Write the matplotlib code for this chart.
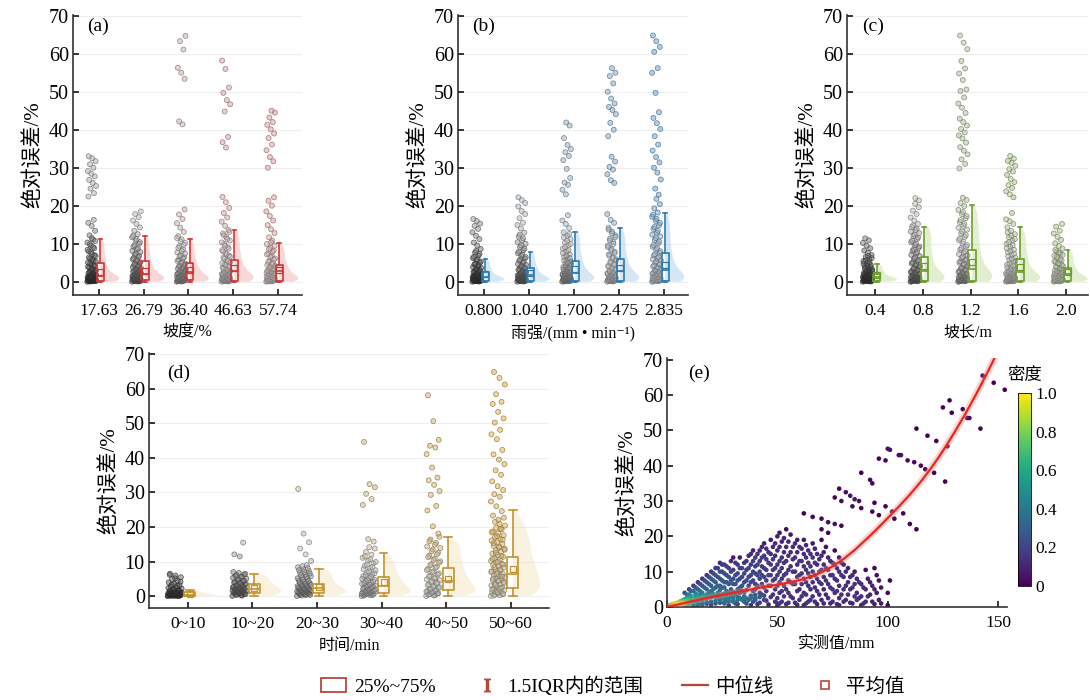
import numpy as np
import matplotlib
matplotlib.use('Agg')
import matplotlib.pyplot as plt
from matplotlib.colors import LinearSegmentedColormap, Normalize, to_rgb
from matplotlib.cm import ScalarMappable
from matplotlib.lines import Line2D
from matplotlib.patches import Patch

plt.rcParams['font.family'] = ['Liberation Serif', 'Noto Sans CJK SC', 'DejaVu Sans']
plt.rcParams['mathtext.fontset'] = 'stix'
plt.rcParams['axes.unicode_minus'] = False

# ---------------- data ----------------
# (a) slope
slope_labels = ['17.63', '26.79', '36.40', '46.63', '57.74']
slope_vals = [
    [0.1, 0.2, 0.2, 0.3, 0.4, 0.4, 0.5, 0.6, 0.7, 0.8, 0.9, 1.0, 1.1, 1.3, 1.4, 1.6, 1.8, 2.0, 2.3, 2.5, 2.8,
     3.1, 3.4, 3.8, 4.2, 4.6, 5.1, 5.6, 6.2, 6.8, 7.4, 8.1, 8.9, 9.6, 10.4, 11.2, 12.3, 13.5, 14.8, 15.6, 16.4,
     0.15, 0.25, 0.35, 0.45, 0.55, 0.65, 0.75, 0.85, 0.95, 1.05, 1.2, 1.35, 1.5, 1.7, 1.9, 2.2, 2.6, 3.0,
     3.5, 4.0, 4.4, 4.9, 5.4, 6.0, 6.5, 7.1, 7.8, 8.5, 9.2, 10.0, 10.8, 11.6,
     22.5, 23.4, 24.6, 25.3, 26.1, 26.9, 27.8, 28.5, 29.2, 30.1, 31.0, 31.8, 32.6, 33.1],
    [0.1, 0.2, 0.3, 0.3, 0.4, 0.5, 0.6, 0.7, 0.8, 0.9, 1.0, 1.2, 1.3, 1.5, 1.7, 1.9, 2.1, 2.4, 2.7, 3.0, 3.3,
     3.7, 4.1, 4.5, 5.0, 5.5, 6.0, 6.6, 7.2, 7.9, 8.6, 9.3, 10.1, 10.9, 11.8, 12.6, 13.5, 14.4, 15.3, 16.2,
     0.15, 0.25, 0.35, 0.45, 0.55, 0.65, 0.75, 0.85, 0.95, 1.1, 1.25, 1.4, 1.6, 1.8, 2.0, 2.3, 2.6, 2.9,
     3.2, 3.5, 3.9, 4.3, 4.8, 5.2, 5.8, 6.3, 6.9, 7.5, 8.2, 8.9, 9.7, 10.5, 11.3, 12.2,
     17.1, 17.9, 18.6],
    [0.1, 0.2, 0.3, 0.4, 0.5, 0.6, 0.7, 0.8, 1.0, 1.1, 1.3, 1.5, 1.7, 2.0, 2.2, 2.5, 2.8, 3.1, 3.5, 3.9, 4.3,
     4.8, 5.3, 5.9, 6.5, 7.1, 7.8, 8.6, 9.4, 10.3, 11.2, 12.1, 13.2, 14.3, 15.5, 16.6, 17.8, 19.1,
     0.15, 0.25, 0.35, 0.45, 0.55, 0.65, 0.75, 0.9, 1.05, 1.2, 1.4, 1.6, 1.85, 2.1, 2.35, 2.65, 2.95, 3.3,
     3.7, 4.1, 4.5, 5.0, 5.6, 6.2, 6.8, 7.5, 8.2, 9.0, 9.8, 10.7, 11.6,
     41.5, 42.3, 53.5, 55.1, 56.4, 61.2, 63.4, 64.8],
    [0.1, 0.2, 0.3, 0.4, 0.5, 0.6, 0.7, 0.9, 1.0, 1.2, 1.4, 1.6, 1.9, 2.1, 2.4, 2.7, 3.0, 3.4, 3.8, 4.2, 4.7,
     5.2, 5.8, 6.4, 7.0, 7.7, 8.4, 9.2, 10.0, 10.9, 11.8, 12.8, 13.7, 14.8, 15.9, 17.0, 18.2, 19.5, 21.0, 22.4,
     0.15, 0.25, 0.35, 0.45, 0.55, 0.65, 0.8, 0.95, 1.1, 1.3, 1.5, 1.75, 2.0, 2.25, 2.55, 2.85, 3.2, 3.6,
     4.0, 4.45, 4.95, 5.5, 6.1, 6.7, 7.35, 8.05, 8.8, 9.6, 10.45, 11.35, 12.3, 13.2,
     35.4, 36.8, 38.2, 44.9, 46.8, 47.9, 49.8, 51.2, 56.1, 58.3],
    [0.1, 0.2, 0.3, 0.4, 0.5, 0.7, 0.8, 1.0, 1.2, 1.4, 1.6, 1.9, 2.2, 2.5, 2.8, 3.2, 3.6, 4.0, 4.5, 5.0, 5.6,
     6.2, 6.9, 7.6, 8.3, 9.1, 10.0, 10.9, 11.8, 12.9, 13.9, 15.0, 16.2, 17.4, 18.6, 20.1, 21.4, 22.3,
     0.15, 0.25, 0.35, 0.45, 0.6, 0.75, 0.9, 1.1, 1.3, 1.5, 1.75, 2.05, 2.35, 2.65, 3.0, 3.4, 3.8, 4.25,
     4.75, 5.3, 5.9, 6.55, 7.25, 7.95, 8.7, 9.55, 10.45,
     30.1, 31.8, 32.9, 34.7, 36.2, 37.9, 39.1, 40.2, 41.4, 42.1, 43.3, 44.6, 45.1],
]
# (q1, median, q3, upper whisker, mean)
slope_box = [(0.4, 1.6, 4.9, 11.4, 2.6), (0.6, 2.2, 5.5, 12.0, 3.0), (0.6, 2.6, 4.9, 11.3, 3.2),
             (0.4, 2.9, 5.8, 13.8, 3.6), (0.4, 2.9, 4.6, 10.3, 3.1)]

# (b) rainfall intensity
rain_labels = ['0.800', '1.040', '1.700', '2.475', '2.835']
rain_vals = [
    [0.1, 0.2, 0.2, 0.3, 0.4, 0.5, 0.6, 0.7, 0.8, 0.9, 1.0, 1.1, 1.3, 1.4, 1.6, 1.8, 2.0, 2.3, 2.6, 2.9, 3.3,
     3.7, 4.1, 4.6, 5.1, 5.7, 6.3, 7.0, 7.8, 8.7, 9.6, 10.4, 11.3, 12.2, 13.1, 14.0, 14.8, 15.4, 16.1, 16.6,
     0.15, 0.25, 0.35, 0.45, 0.55, 0.65, 0.75, 0.85, 0.95, 1.05, 1.2, 1.35, 1.5, 1.7, 1.9, 2.15, 2.45,
     2.75, 3.1, 3.5, 3.9, 4.35, 4.85, 5.4, 6.0, 6.65, 7.4, 8.2],
    [0.1, 0.2, 0.3, 0.3, 0.4, 0.5, 0.6, 0.7, 0.8, 1.0, 1.1, 1.3, 1.5, 1.7, 1.9, 2.2, 2.5, 2.8, 3.2, 3.6, 4.0,
     4.5, 5.0, 5.6, 6.2, 6.9, 7.6, 8.4, 9.2, 10.1, 11.0, 12.0, 13.0, 14.1, 15.0, 15.6, 16.8, 17.9, 18.7, 19.9,
     0.15, 0.25, 0.35, 0.45, 0.55, 0.65, 0.75, 0.9, 1.05, 1.2, 1.4, 1.6, 1.8, 2.05, 2.35, 2.65, 3.0, 3.4,
     3.8, 4.25, 4.75, 5.3, 5.9, 6.55, 7.25, 8.0, 8.8, 9.65, 10.5, 11.5, 12.5,
     20.8, 21.6, 22.3],
    [0.1, 0.2, 0.3, 0.4, 0.5, 0.6, 0.7, 0.9, 1.0, 1.2, 1.4, 1.6, 1.9, 2.1, 2.4, 2.7, 3.1, 3.5, 3.9, 4.4, 4.9,
     5.4, 6.0, 6.6, 7.3, 8.0, 8.8, 9.6, 10.4, 11.3, 12.2, 13.1, 14.2, 15.3, 16.2, 17.6,
     0.15, 0.25, 0.35, 0.45, 0.55, 0.65, 0.8, 0.95, 1.1, 1.3, 1.5, 1.75, 2.0, 2.25, 2.55, 2.9, 3.3, 3.7,
     4.15, 4.65, 5.15, 5.7, 6.3, 6.95, 7.65, 8.4, 9.2, 10.0, 10.85, 11.75, 12.65,
     23.1, 24.3, 25.6, 26.2, 27.4, 29.8, 32.1, 33.2, 34.2, 35.0, 36.1, 37.9, 41.2, 42.0],
    [0.1, 0.2, 0.3, 0.4, 0.5, 0.6, 0.8, 0.9, 1.1, 1.3, 1.5, 1.8, 2.0, 2.3, 2.7, 3.0, 3.4, 3.8, 4.3, 4.8, 5.4,
     6.0, 6.6, 7.3, 8.0, 8.8, 9.6, 10.5, 11.4, 12.3, 13.3, 14.3, 15.6, 16.4, 17.9,
     0.15, 0.25, 0.35, 0.45, 0.55, 0.7, 0.85, 1.0, 1.2, 1.4, 1.65, 1.9, 2.15, 2.5, 2.85, 3.2, 3.6, 4.05,
     4.55, 5.1, 5.7, 6.3, 6.95, 7.65, 8.4, 9.2, 10.05, 10.95, 11.85, 12.8, 13.8,
     26.1, 26.8, 28.4, 29.6, 30.3, 31.7, 33.0, 38.4, 40.1, 41.9, 44.2, 45.3, 46.1, 47.0, 48.3, 50.1, 52.3,
     54.2, 55.1, 56.3],
    [0.1, 0.2, 0.3, 0.4, 0.5, 0.6, 0.7, 0.9, 1.0, 1.2, 1.4, 1.7, 1.9, 2.2, 2.5, 2.9, 3.2, 3.6, 4.1, 4.6, 5.1,
     5.7, 6.3, 7.0, 7.7, 8.5, 9.3, 10.2, 11.1, 12.0, 13.0, 14.0, 15.0, 16.1, 17.2, 18.3, 19.4, 20.5, 21.9,
     0.15, 0.25, 0.35, 0.45, 0.55, 0.65, 0.8, 0.95, 1.1, 1.3, 1.55, 1.8, 2.05, 2.35, 2.7, 3.05, 3.4, 3.85,
     4.35, 4.85, 5.4, 6.0, 6.65, 7.35, 8.1, 8.9, 9.75, 10.65, 11.55, 12.5, 13.5, 14.5, 15.55, 16.65, 17.75,
     23.0, 24.6, 27.0, 28.8, 30.1, 31.5, 32.9, 34.6, 36.2, 38.4, 40.3, 41.8, 43.2, 44.7, 49.8, 55.1, 56.3,
     60.6, 61.9, 63.4, 64.9],
]
rain_box = [(0.3, 1.3, 2.6, 6.0, 2.0), (0.4, 1.8, 3.7, 8.0, 2.5), (0.3, 2.3, 5.5, 13.2, 3.4),
            (0.3, 2.9, 6.0, 14.2, 3.8), (0.3, 3.3, 7.7, 18.2, 4.5)]

# (c) slope length
length_labels = ['0.4', '0.8', '1.2', '1.6', '2.0']
length_vals = [
    [0.1, 0.2, 0.2, 0.3, 0.4, 0.5, 0.6, 0.7, 0.8, 0.9, 1.0, 1.1, 1.2, 1.4, 1.5, 1.7, 1.9, 2.1, 2.4, 2.7, 3.0,
     3.3, 3.7, 4.1, 4.5, 5.0, 5.5, 6.0, 6.6, 7.1, 7.7, 8.3, 8.9, 9.6, 10.3, 11.0, 11.5,
     0.15, 0.25, 0.35, 0.45, 0.55, 0.65, 0.75, 0.85, 0.95, 1.05, 1.15, 1.3, 1.45, 1.6, 1.8, 2.0, 2.25,
     2.55, 2.85, 3.15, 3.5, 3.9, 4.3, 4.8, 5.25, 5.75, 6.3, 6.85],
    [0.1, 0.2, 0.3, 0.4, 0.5, 0.7, 0.8, 1.0, 1.2, 1.4, 1.7, 2.0, 2.3, 2.6, 3.0, 3.4, 3.9, 4.4, 4.9, 5.5, 6.1,
     6.8, 7.5, 8.2, 9.0, 9.7, 10.5, 11.3, 12.1, 12.9, 13.7, 14.5, 15.3, 16.2, 17.0, 17.9, 18.8, 19.7, 20.6,
     0.15, 0.25, 0.35, 0.45, 0.6, 0.75, 0.9, 1.1, 1.3, 1.55, 1.85, 2.15, 2.45, 2.8, 3.2, 3.65, 4.15, 4.65,
     5.2, 5.8, 6.45, 7.15, 7.85, 8.6, 9.35, 10.1, 10.9, 11.7, 12.5, 13.3, 14.1, 14.9,
     21.5, 22.1],
    [0.1, 0.2, 0.3, 0.4, 0.5, 0.6, 0.8, 1.0, 1.2, 1.4, 1.7, 2.0, 2.3, 2.7, 3.1, 3.5, 4.0, 4.5, 5.1, 5.7, 6.3,
     7.0, 7.7, 8.5, 9.3, 10.1, 11.0, 11.9, 12.8, 13.8, 14.8, 15.8, 16.8, 17.9, 19.0, 20.0, 20.8, 21.6, 22.2,
     0.15, 0.25, 0.35, 0.45, 0.55, 0.7, 0.9, 1.1, 1.3, 1.55, 1.85, 2.15, 2.5, 2.9, 3.3, 3.75, 4.25, 4.8,
     5.4, 6.0, 6.65, 7.35, 8.1, 8.9, 9.7, 10.55, 11.45, 12.35, 13.3, 14.3, 15.3, 16.3, 17.35, 18.45,
     29.9, 31.1, 32.3, 33.6, 34.6, 35.5, 36.7, 37.8, 38.6, 39.4, 40.3, 41.2, 42.1, 43.0, 44.5, 45.9, 47.0,
     48.6, 50.3, 50.7, 53.2, 54.9, 56.2, 58.2, 61.3, 63.0, 64.9],
    [0.1, 0.2, 0.3, 0.4, 0.5, 0.6, 0.8, 1.0, 1.1, 1.3, 1.6, 1.8, 2.1, 2.4, 2.8, 3.2, 3.6, 4.1, 4.6, 5.2, 5.8,
     6.4, 7.1, 7.8, 8.5, 9.3, 10.1, 10.9, 11.8, 12.6, 13.5, 14.4, 15.3, 16.0, 16.5, 18.2,
     0.15, 0.25, 0.35, 0.45, 0.55, 0.7, 0.9, 1.05, 1.2, 1.45, 1.7, 1.95, 2.25, 2.6, 3.0, 3.4, 3.85, 4.35,
     4.9, 5.5, 6.1, 6.75, 7.45, 8.15, 8.9, 9.7, 10.5, 11.35, 12.2, 13.05,
     22.3, 23.1, 23.9, 24.8, 25.5, 26.3, 27.1, 28.2, 29.1, 29.7, 30.6, 31.4, 31.9, 32.5, 33.2],
    [0.1, 0.2, 0.3, 0.3, 0.4, 0.5, 0.6, 0.7, 0.8, 1.0, 1.1, 1.3, 1.5, 1.7, 1.9, 2.1, 2.4, 2.7, 3.0, 3.4, 3.8,
     4.2, 4.7, 5.2, 5.7, 6.3, 6.9, 7.5, 8.1, 8.8, 9.5, 10.2, 11.1, 11.9, 12.8, 13.5, 14.6, 15.3,
     0.15, 0.25, 0.35, 0.45, 0.55, 0.65, 0.75, 0.9, 1.05, 1.2, 1.4, 1.6, 1.8, 2.0, 2.25, 2.55, 2.85, 3.2,
     3.6, 4.0, 4.45, 4.95, 5.45, 6.0, 6.6, 7.2, 7.8, 8.45],
]
length_box = [(0.3, 1.3, 2.0, 4.7, 1.8), (0.3, 2.9, 6.7, 14.6, 4.2), (0.3, 3.5, 8.5, 20.2, 5.3),
              (0.3, 2.7, 6.0, 14.4, 3.9), (0.3, 2.0, 3.7, 8.5, 2.6)]

# (d) time
time_labels = ['0~10', '10~20', '20~30', '30~40', '40~50', '50~60']
time_vals = [
    [0.0, 0.1, 0.1, 0.2, 0.2, 0.3, 0.3, 0.4, 0.4, 0.5, 0.5, 0.6, 0.7, 0.8, 0.9, 1.0, 1.1, 1.3, 1.5, 1.7, 1.9,
     2.2, 2.5, 2.8, 3.2, 3.6, 4.0, 4.5, 5.0, 5.5, 6.0, 6.5,
     0.05, 0.15, 0.25, 0.35, 0.45, 0.55, 0.65, 0.75, 0.85, 0.95, 1.05, 1.2, 1.4, 1.6, 2.0, 2.4, 3.0, 3.4,
     4.2, 5.2, 6.2],
    [0.1, 0.3, 0.5, 0.7, 0.8, 1.0, 1.2, 1.4, 1.6, 1.8, 2.0, 2.2, 2.4, 2.6, 2.9, 3.1, 3.4, 3.7, 4.0, 4.3, 4.7,
     5.1, 5.5, 5.9, 6.3, 6.7, 7.0, 0.2, 0.4, 0.6, 0.9, 1.1, 1.3, 1.5, 1.7, 1.9, 2.1, 2.3, 2.5, 2.75, 3.0,
     3.25, 3.55, 3.85, 4.15, 4.5, 4.9, 5.3, 5.7, 6.1, 6.5, 11.5, 12.1, 15.5],
    [0.1, 0.3, 0.5, 0.7, 0.9, 1.1, 1.3, 1.5, 1.7, 1.9, 2.1, 2.3, 2.6, 2.9, 3.2, 3.5, 3.8, 4.2, 4.6, 5.0, 5.4,
     5.8, 6.3, 6.8, 7.3, 7.8, 8.4, 9.0, 0.2, 0.4, 0.6, 0.8, 1.0, 1.2, 1.4, 1.6, 1.8, 2.0, 2.2, 2.45, 2.75,
     3.05, 3.35, 3.65, 4.0, 4.4, 4.8, 5.2, 5.6, 6.05, 6.55, 7.05, 7.55, 8.1, 8.7,
     10.2, 12.1, 13.8, 15.6, 18.1, 31.0],
    [0.1, 0.3, 0.5, 0.7, 0.9, 1.2, 1.4, 1.7, 2.0, 2.3, 2.6, 2.9, 3.2, 3.6, 4.0, 4.4, 4.8, 5.3, 5.8, 6.3, 6.9,
     7.5, 8.1, 8.8, 9.5, 10.3, 11.1, 12.0, 12.8, 13.8, 14.2, 0.2, 0.4, 0.6, 0.8, 1.05, 1.3, 1.55, 1.85, 2.15,
     2.45, 2.75, 3.05, 3.4, 3.8, 4.2, 4.6, 5.05, 5.55, 6.05, 6.6, 7.2, 7.8, 8.45, 9.15, 9.9, 10.7, 11.55,
     15.8, 16.5, 26.4, 28.1, 29.6, 31.5, 32.4, 44.6],
    [0.1, 0.3, 0.6, 0.9, 1.2, 1.5, 1.8, 2.2, 2.6, 3.0, 3.4, 3.9, 4.4, 4.9, 5.4, 6.0, 6.6, 7.2, 7.9, 8.6, 9.3,
     10.1, 10.9, 11.7, 12.6, 13.5, 14.4, 15.4, 16.4, 17.2, 0.2, 0.45, 0.75, 1.05, 1.35, 1.65, 2.0, 2.4,
     2.8, 3.2, 3.65, 4.15, 4.65, 5.15, 5.7, 6.3, 6.9, 7.55, 8.25, 8.95, 9.7, 10.5, 11.3, 12.15, 13.05,
     13.95, 14.9, 15.9, 18.1, 20.2, 24.8, 26.1, 29.3, 30.4, 32.2, 33.5, 34.3, 37.2, 41.1, 43.0, 43.5,
     45.2, 50.6, 58.1],
    [0.1, 0.3, 0.5, 0.6, 0.9, 1.0, 1.3, 1.5, 1.7, 2.1, 2.3, 2.6, 2.9, 3.1, 3.4, 3.6, 4.1, 4.4, 4.7, 5.0, 5.3,
     5.6, 5.9, 6.2, 6.5, 6.9, 7.2, 7.6, 7.9, 8.3, 8.6, 9.0, 9.4, 9.8, 10.2, 10.6, 11.0, 11.4, 11.9, 12.3,
     12.8, 13.2, 13.7, 14.1, 14.6, 15.1, 15.6, 16.1, 16.6, 17.1, 17.6, 18.2, 18.7, 19.3, 19.8, 20.4, 20.9,
     0.2, 0.7, 1.15, 1.9, 2.45, 3.25, 3.85, 4.55, 5.15, 5.75, 6.35, 7.05, 7.75, 8.45, 9.2, 10.0, 10.8,
     11.65, 12.55, 13.45, 14.35, 15.35, 16.35, 17.35, 18.45, 19.55, 21.5, 22.7,
     22.1, 23.3, 24.6, 26.0, 27.4, 28.8, 29.5, 30.7, 31.8, 33.2, 35.1, 36.4, 38.2, 39.5, 41.0, 42.3, 45.4,
     46.8, 48.1, 50.2, 51.4, 53.3, 55.6, 56.2, 58.4, 61.2, 63.1, 64.8],
]
time_box = [(0.1, 0.5, 1.1, 1.7, 0.7), (0.8, 2.1, 3.4, 6.3, 2.3), (1.0, 2.3, 3.6, 7.8, 2.7),
            (1.0, 3.1, 5.7, 12.6, 4.0), (1.7, 4.5, 8.2, 17.0, 5.0), (2.4, 6.3, 11.3, 25.0, 7.8)]

# (e) measured value vs absolute error
e_points = [
    (0.5, 0.1), (1, 0.1), (1, 0.4), (1.5, 0.2), (1.5, 0.5), (2, 0.1), (2, 0.4), (2.5, 0.3), (2.5, 0.7),
    (3, 0.2), (3, 0.6), (3.5, 0.4), (3.5, 0.8), (4, 0.3), (4, 0.7), (4.5, 0.5), (5, 0.3), (5, 0.9),
    (5.5, 0.6), (6, 0.4), (6, 1.1), (6.5, 0.7), (7, 0.5), (7, 1.3), (8, 0.6), (8, 1.5), (9, 0.8), (9, 1.8),
    (10, 0.9), (10, 2.0), (1, 0.2), (2, 0.3), (2, 0.6), (3, 0.4), (3, 0.9), (4, 0.5), (4, 1.1), (5, 0.6),
    (5, 1.3), (6, 0.8), (6, 1.6), (7, 0.9), (7, 1.9), (8, 1.0), (8, 2.2), (9, 1.2), (9, 2.5), (10, 1.3),
    (10, 2.8), (11, 1.5), (11, 3.0), (12, 1.6), (12, 0.8), (13, 1.8), (13, 3.3), (14, 1.9), (14, 1.0),
    (15, 2.1), (15, 3.5), (16, 2.2), (16, 1.2), (17, 2.4), (18, 2.5), (18, 1.4), (19, 2.7), (20, 2.8),
    (20, 1.5), (21, 3.0), (22, 3.1), (22, 1.8), (23, 3.3), (24, 3.4), (24, 2.0), (25, 3.6), (26, 3.8),
    (26, 2.2), (28, 4.0), (28, 2.4), (30, 4.2), (30, 2.6), (32, 4.4), (32, 2.8), (34, 4.6), (35, 3.0),
    (36, 4.8), (38, 3.2), (40, 5.0), (40, 3.4),
    (12, 0.4), (14, 0.6), (16, 0.7), (18, 0.9), (20, 0.6), (22, 1.0), (24, 1.2), (26, 1.4), (28, 1.6),
    (30, 1.8), (32, 2.0), (34, 2.2), (36, 2.4), (38, 2.6), (40, 2.0), (42, 2.8), (44, 3.2), (13, 2.6),
    (15, 2.8), (17, 3.0), (19, 3.4), (21, 3.6), (23, 2.6), (25, 2.9), (27, 3.1), (29, 3.3), (31, 3.6),
    (33, 3.9), (35, 4.1),
    (8, 4), (10, 5), (10, 3.5), (12, 6), (12, 4.5), (14, 7), (14, 5), (14, 3), (16, 8), (16, 6), (16, 4),
    (18, 9), (18, 7), (18, 5), (18, 3.5), (20, 10), (20, 8), (20, 6), (20, 4.5), (22, 11), (22, 9), (22, 7),
    (22, 5.5), (24, 12.5), (24, 10), (24, 8), (24, 6), (24, 4.8), (26, 12), (26, 9.5), (26, 7), (26, 5.5),
    (26, 1), (28, 11), (28, 8.5), (28, 6.5), (28, 0.5), (30, 14), (30, 10.5), (30, 8), (30, 6.5), (30, 1.5),
    (32, 12), (32, 9.5), (32, 7.5), (32, 5), (32, 0.8), (34, 11), (34, 8.5), (34, 6), (34, 2), (36, 13),
    (36, 10.5), (36, 7.5), (36, 1), (38, 15), (38, 12), (38, 9), (38, 7), (38, 3), (38, 0.5), (40, 14),
    (40, 11.5), (40, 9.5), (40, 6.5), (40, 2.5), (42, 16), (42, 13), (42, 10), (42, 8), (42, 4), (42, 1.2),
    (44, 18), (44, 14.5), (44, 11), (44, 8.5), (44, 5.5), (44, 2), (46, 15.5), (46, 12.5), (46, 9), (46, 6),
    (46, 0.7), (48, 17), (48, 13.5), (48, 10.5), (48, 7.5), (48, 3.5), (50, 20), (50, 16), (50, 12), (50, 9),
    (50, 6), (50, 2.5), (50, 0.4), (52, 18.5), (52, 14), (52, 11), (52, 8), (52, 4.5), (52, 1.5), (54, 22),
    (54, 17), (54, 13), (54, 9.5), (54, 5), (54, 0.8), (56, 20.5), (56, 15.5), (56, 11.5), (56, 7), (56, 3),
    (58, 18), (58, 14), (58, 10), (58, 6.5), (58, 1.2), (60, 17), (60, 13), (60, 9), (60, 5), (60, 2),
    (62, 19), (62, 15), (62, 11.5), (62, 8), (62, 4), (62, 0.5), (64, 16), (64, 12.5), (64, 9.5), (64, 6),
    (64, 1.5), (66, 18), (66, 14), (66, 10), (66, 7), (66, 3), (68, 15), (68, 12), (68, 8), (68, 4.5),
    (68, 0.8), (70, 19), (70, 14.5), (70, 10.5), (70, 6.5), (70, 2), (72, 17), (72, 11), (72, 7.5),
    (72, 3.5), (74, 13), (74, 9), (74, 5.5), (74, 1), (76, 16), (76, 12), (76, 8), (76, 4), (78, 14),
    (78, 10), (78, 6), (78, 2.5), (78, 0.5), (80, 12), (80, 8.5), (80, 5), (80, 1.5), (82, 11), (82, 7),
    (82, 3.5), (84, 9), (84, 5.5), (84, 1), (86, 8), (86, 4), (86, 2), (88, 6.5), (88, 3), (88, 0.5),
    (90, 10.5), (90, 5), (90, 1.5), (92, 7), (92, 3.5), (94, 11), (94, 5), (94, 0.8), (96, 7.5), (96, 2),
    (100, 4), (100, 0.5), (101, 7.5),
    (9, 3.5), (11, 4.5), (11, 2.5), (13, 5.5), (13, 3.8), (15, 6.5), (15, 4.5), (17, 7.5), (17, 5.5),
    (19, 8.5), (19, 6.5), (19, 4), (21, 9.5), (21, 7.5), (21, 5), (23, 11), (23, 8.5), (23, 6), (23, 4),
    (25, 12), (25, 10), (25, 7.5), (25, 5.5), (27, 11.5), (27, 9), (27, 7), (27, 4.5), (27, 1.8), (29, 13),
    (29, 10), (29, 7.5), (29, 5), (31, 12.5), (31, 9), (31, 6.5), (31, 1), (33, 14), (33, 11), (33, 8),
    (33, 5.5), (33, 2.5), (35, 12.5), (35, 9.5), (35, 7), (35, 1.5), (37, 14.5), (37, 11), (37, 8.5),
    (37, 6), (37, 2), (39, 16), (39, 13), (39, 10), (39, 7.5), (39, 4.5), (39, 1.5), (41, 15), (41, 12),
    (41, 9), (41, 6), (41, 0.8), (43, 17), (43, 14), (43, 11.5), (43, 9), (43, 6.5), (43, 3.5), (45, 16.5),
    (45, 13.5), (45, 10.5), (45, 7.5), (45, 4.5), (45, 1.8), (47, 19), (47, 15), (47, 12), (47, 9), (47, 6),
    (47, 2.8), (49, 18), (49, 14.5), (49, 11), (49, 8), (49, 5), (49, 1.5), (51, 21), (51, 17), (51, 13),
    (51, 10), (51, 7), (51, 4), (51, 1), (53, 19.5), (53, 15.5), (53, 12.5), (53, 9), (53, 6), (53, 3),
    (55, 18.5), (55, 14.5), (55, 10.5), (55, 7.5), (55, 4), (55, 1.2), (57, 17), (57, 13.5), (57, 10),
    (57, 6.5), (57, 2.5), (59, 19), (59, 15.5), (59, 12), (59, 8.5), (59, 4.5), (59, 0.6), (61, 16.5),
    (61, 13), (61, 9.5), (61, 6.5), (61, 3), (63, 17.5), (63, 14), (63, 10.5), (63, 7), (63, 3.5), (63, 1),
    (65, 15), (65, 11.5), (65, 8.5), (65, 5), (65, 2), (67, 16.5), (67, 12.5), (67, 9), (67, 5.5), (67, 1.5),
    (69, 13.5), (69, 10), (69, 7), (69, 3.5), (71, 15.5), (71, 12), (71, 8.5), (71, 5), (71, 1), (73, 14),
    (73, 10.5), (73, 6.5), (73, 2.5), (75, 12.5), (75, 9), (75, 5), (75, 1.5), (77, 11), (77, 7.5),
    (77, 4.5), (77, 0.8), (79, 12.5), (79, 9), (79, 3.5), (81, 10), (81, 6), (81, 2), (83, 8.5), (83, 5),
    (83, 1.2), (85, 10), (85, 6.5), (85, 3), (87, 7), (87, 2.5), (89, 5.5), (89, 1), (91, 8), (91, 3),
    (93, 6), (93, 1.5), (95, 9), (95, 4), (97, 5.5), (97, 1),
    (62, 26.5), (66, 25.5), (70, 25), (73, 24), (76, 23.5), (79, 23), (70, 22), (73, 21), (76, 31),
    (78, 33.5), (79, 30), (81, 32.5), (83, 31.5), (84, 28.5), (85, 30.5), (87, 30), (88, 28), (88, 38),
    (92, 36), (93, 35), (93, 27), (94, 29.5), (96, 26), (96, 42), (99, 41.5), (99, 28.5), (100, 44.8),
    (101, 44.5), (102, 27), (103, 25), (105, 43), (106, 43), (107, 26.5), (109, 41.5), (110, 23.5),
    (112, 41), (113, 22), (113, 50.5), (115, 40), (117, 39), (118, 48.5), (121, 38), (122, 47),
    (125, 56.5), (126, 35.5), (127, 45.5), (128, 58.5), (129, 55), (134, 56), (136, 53.5), (137, 53.5),
    (142, 50.5), (143, 65.5), (148, 63.5), (153, 61.5),
]
# fitted trend line
fit_x = [0, 5, 10, 15, 20, 25, 30, 35, 40, 45, 50, 55, 60, 65, 70, 75, 80, 85, 90, 95, 100, 105, 110,
         115, 120, 125, 130, 135, 140, 145, 150]
fit_y = [0, 0.7, 1.4, 2.1, 2.8, 3.4, 4.0, 4.6, 5.2, 5.8, 6.3, 6.9, 7.6, 8.5, 9.8, 11.5, 13.6, 16.1, 19.0,
         22.0, 25.2, 28.4, 31.8, 35.5, 39.6, 44.2, 49.2, 54.5, 60.2, 66.2, 72.5]

ylab = '绝对误差/%'


def darker(c, f=0.7):
    r, g, b = to_rgb(c)
    return (r * f, g * f, b * f)


def strip_panel(ax, labels, vals, box, main, light, pt, xlim, tag, xlabel,
                spread=0.2, shift=-0.16, bw=0.16, capw=0.08, valpha=0.5):
    n = len(labels)
    pos = np.arange(1, n + 1)
    cmap = LinearSegmentedColormap.from_list('pts', ['#303030', '#b0b0b0', pt])
    for y in range(0, 71, 10):
        ax.axhline(y, color='#eeeeee', lw=0.8, zorder=0)

    # half violins of the values inside the whisker range
    inner = [[x for x in v if x <= b[3]] for v, b in zip(vals, box)]
    vp = ax.violinplot(inner, positions=pos + 0.03, widths=0.85, side='high',
                       showextrema=False, bw_method=0.3)
    for body in vp['bodies']:
        body.set_facecolor(light)
        body.set_edgecolor('none')
        body.set_alpha(valpha)
        body.set_zorder(1)

    for i, v in enumerate(vals):
        v = np.asarray(v)
        k = np.arange(len(v))
        xs = pos[i] + shift + ((k * 0.6180339887) % 1.0 - 0.5) * spread
        t = 0.55 * i / (n - 1) + 0.45 * np.clip(v / 20.0, 0, 1)
        fc = cmap(t)
        fc[:, 3] = 0.45
        ec = [darker(c[:3]) + (0.85,) for c in cmap(t)]
        ax.scatter(xs, v, s=13, c=fc, edgecolors=ec, linewidths=0.5, zorder=2)

    stats = [dict(q1=b[0], med=b[1], q3=b[2], whislo=0.0, whishi=b[3], mean=b[4], fliers=[])
             for b in box]
    ax.bxp(stats, positions=pos + 0.03, widths=bw, showmeans=True, showfliers=False,
           manage_ticks=False, capwidths=capw,
           boxprops=dict(color=main, lw=1.2), whiskerprops=dict(color=main, lw=1.2),
           capprops=dict(color=main, lw=1.2), medianprops=dict(color=main, lw=1.2),
           meanprops=dict(marker='s', markerfacecolor='none', markeredgecolor=main,
                          markersize=4, markeredgewidth=0.9), zorder=3)

    ax.set_xticks(pos)
    ax.set_xticklabels(labels, fontsize=12.5)
    ax.set_xlim(*xlim)
    ax.set_ylim(-3.4, 70.3)
    ax.set_yticks(range(0, 71, 10))
    ax.tick_params(axis='y', labelsize=14.5, direction='in', length=4, width=1.1, pad=3)
    ax.tick_params(axis='x', direction='in', length=4, width=1.1, pad=6)
    for s in ['top', 'right']:
        ax.spines[s].set_visible(False)
    for s in ['left', 'bottom']:
        ax.spines[s].set_linewidth(1.2)
        ax.spines[s].set_color('#333333')
    ax.set_ylabel(ylab, fontsize=15, labelpad=4)
    ax.set_xlabel(xlabel, fontsize=11.5, labelpad=4)
    ax.text(tag[1], tag[2], tag[0], transform=ax.transAxes, fontsize=14, ha='center', va='center')


fig = plt.figure(figsize=(10.9, 7), dpi=100)

ax_a = fig.add_axes([0.0670, 0.5786, 0.2101, 0.40])
ax_b = fig.add_axes([0.4202, 0.5786, 0.2110, 0.40])
ax_c = fig.add_axes([0.7771, 0.5786, 0.2211, 0.40])
ax_d = fig.add_axes([0.1367, 0.1314, 0.3670, 0.3643])
ax_e = fig.add_axes([0.6119, 0.1329, 0.3119, 0.3557])
cax = fig.add_axes([0.9339, 0.1629, 0.0119, 0.2757])

strip_panel(ax_a, slope_labels, slope_vals, slope_box, '#cf3535', '#f3b0b0', '#d98f8f',
            (0.42, 5.54), ('(a)', 0.11, 0.96), '坡度/%')
strip_panel(ax_b, rain_labels, rain_vals, rain_box, '#2a7bb3', '#aed0e8', '#5e93c4',
            (0.42, 5.54), ('(b)', 0.11, 0.96), '雨强/(mm • min⁻¹)')
strip_panel(ax_c, length_labels, length_vals, length_box, '#6c9c2e', '#c6e0a0', '#97bf60',
            (0.41, 5.46), ('(c)', 0.11, 0.96), '坡长/m')
strip_panel(ax_d, time_labels, time_vals, time_box, '#c4922c', '#ecd59c', '#d5a640',
            (0.40, 6.59), ('(d)', 0.075, 0.92), '时间/min',
            spread=0.22, shift=-0.2, bw=0.17, capw=0.12, valpha=0.3)

# (e) density scatter
e_meas, e_err = np.array(e_points, dtype=float).T
sx, sy = e_meas / 154.0, e_err / 70.0
d2 = (sx[:, None] - sx[None, :]) ** 2 + (sy[:, None] - sy[None, :]) ** 2
dens = np.exp(-d2 / (2 * 0.016 ** 2)).sum(axis=1)
dens = (dens - dens.min()) / (dens.max() - dens.min())
order = np.argsort(dens)
ax_e.scatter(e_meas[order], e_err[order], c=dens[order], cmap='viridis', vmin=0, vmax=1,
             s=11, edgecolors='none', zorder=2)
ax_e.plot(fit_x, fit_y, color='#f08080', lw=5, alpha=0.35, zorder=3, solid_capstyle='butt')
ax_e.plot(fit_x, fit_y, color='#e8281e', lw=1.6, zorder=4)
ax_e.set_xlim(0, 154)
ax_e.set_ylim(0, 70.5)
ax_e.set_xticks([0, 50, 100, 150])
ax_e.set_yticks(range(0, 71, 10))
ax_e.tick_params(axis='y', labelsize=14.5, direction='in', length=4, width=1.1, pad=3)
ax_e.tick_params(axis='x', labelsize=12.5, direction='in', length=4, width=1.1, pad=6)
for s in ['top', 'right']:
    ax_e.spines[s].set_visible(False)
for s in ['left', 'bottom']:
    ax_e.spines[s].set_linewidth(1.2)
    ax_e.spines[s].set_color('#333333')
ax_e.set_ylabel(ylab, fontsize=15, labelpad=4)
ax_e.set_xlabel('实测值/mm', fontsize=11.5, labelpad=4)
ax_e.text(0.094, 0.94, '(e)', transform=ax_e.transAxes, fontsize=14, ha='center', va='center')

cb = fig.colorbar(ScalarMappable(norm=Normalize(0, 1), cmap='viridis'), cax=cax)
cb.set_ticks([0, 0.2, 0.4, 0.6, 0.8, 1.0])
cb.set_ticklabels(['0', '0.2', '0.4', '0.6', '0.8', '1.0'])
cb.ax.tick_params(labelsize=12.5, length=0, pad=3)
cb.outline.set_linewidth(0.6)
cax.set_title('密度', fontsize=12.5, pad=9)

# legend
lc = '#b5473a'
handles = [Patch(facecolor='none', edgecolor=lc, linewidth=1.3),
           Line2D([], [], linestyle='none', marker=r'$\mathrm{I}$', color=lc, markersize=9),
           Line2D([], [], color=lc, lw=1.6),
           Line2D([], [], linestyle='none', marker='s', markerfacecolor='none',
                  markeredgecolor=lc, markersize=6, markeredgewidth=1.2)]
fig.legend(handles, ['25%~75%', '1.5IQR内的范围', '中位线', '平均值'], loc='center',
           bbox_to_anchor=(0.562, 0.02), ncol=4, frameon=False, fontsize=14,
           handlelength=1.3, handletextpad=0.4, columnspacing=2.0)

fig.savefig('out.png', dpi=100)
